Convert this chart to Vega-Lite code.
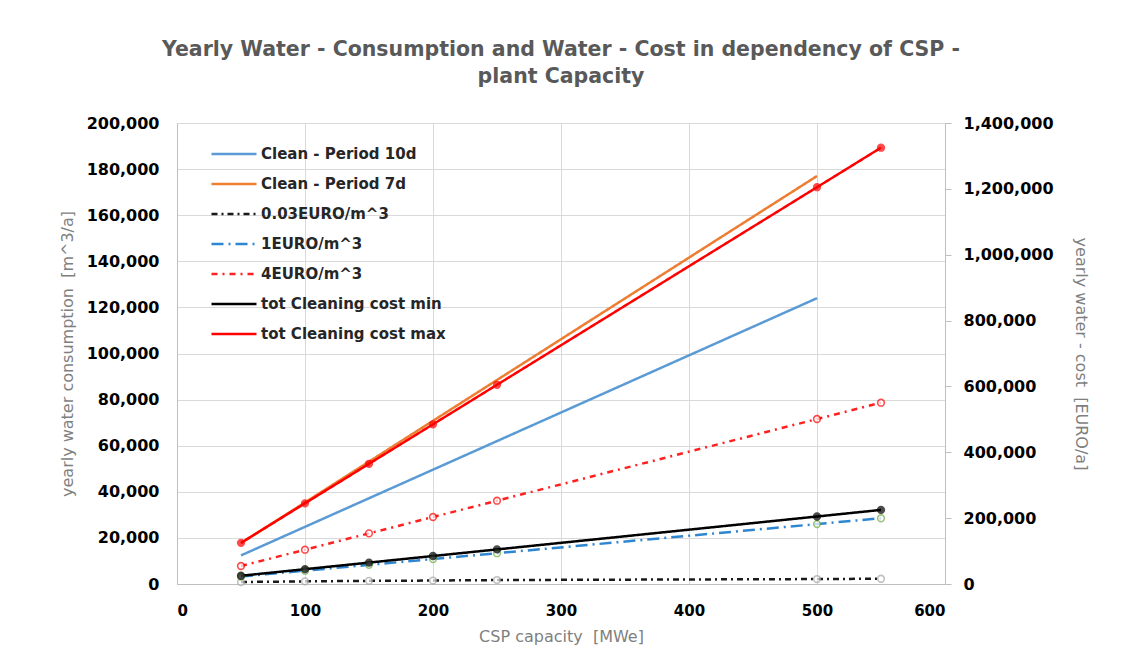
{
  "$schema": "https://vega.github.io/schema/vega-lite/v6.json",
  "width": 768,
  "height": 461,
  "autosize": {"type": "none"},
  "padding": {"left": 177, "top": 123, "right": 185, "bottom": 84},
  "background": "white",
  "config": {
    "view": {"stroke": null},
    "font": "DejaVu Sans",
    "axis": {
      "labelFont": "DejaVu Sans",
      "labelFontWeight": "bold",
      "labelFontSize": 16,
      "labelColor": "#000000",
      "titleFont": "DejaVu Sans",
      "titleFontWeight": "normal",
      "titleFontSize": 16,
      "titleColor": "#7F7F7F",
      "gridColor": "#D9D9D9",
      "gridWidth": 1,
      "domainColor": "#BFBFBF",
      "tickColor": "#BFBFBF"
    },
    "legend": {
      "orient": "none",
      "legendX": 48,
      "legendY": 22,
      "title": null,
      "symbolType": "M-3,0H3",
      "symbolSize": 225,
      "symbolFillColor": "transparent",
      "labelOffset": 18,
      "rowPadding": 13,
      "labelLimit": 400,
      "labelFont": "DejaVu Sans",
      "labelFontWeight": "bold",
      "labelFontSize": 15,
      "labelColor": "#262626",
      "padding": 0
    }
  },
  "title": {
    "text": ["Yearly Water - Consumption and Water - Cost in dependency of CSP -", "plant Capacity"],
    "font": "DejaVu Sans",
    "fontWeight": "bold",
    "fontSize": 20.5,
    "color": "#595959",
    "anchor": "middle",
    "lineHeight": 27,
    "offset": 28
  },
  "data": {
    "values": [
      {"mw": 50, "series": "Clean - Period 10d", "value": 12400},
      {"mw": 100, "series": "Clean - Period 10d", "value": 24800},
      {"mw": 150, "series": "Clean - Period 10d", "value": 37200},
      {"mw": 200, "series": "Clean - Period 10d", "value": 49600},
      {"mw": 250, "series": "Clean - Period 10d", "value": 62000},
      {"mw": 500, "series": "Clean - Period 10d", "value": 124000},
      {"mw": 50, "series": "Clean - Period 7d", "value": 17700},
      {"mw": 100, "series": "Clean - Period 7d", "value": 35400},
      {"mw": 150, "series": "Clean - Period 7d", "value": 53100},
      {"mw": 200, "series": "Clean - Period 7d", "value": 70800},
      {"mw": 250, "series": "Clean - Period 7d", "value": 88500},
      {"mw": 500, "series": "Clean - Period 7d", "value": 177000},
      {"mw": 50, "series": "0.03EURO/m^3", "value": 6000},
      {"mw": 100, "series": "0.03EURO/m^3", "value": 8000},
      {"mw": 150, "series": "0.03EURO/m^3", "value": 9500},
      {"mw": 200, "series": "0.03EURO/m^3", "value": 10500},
      {"mw": 250, "series": "0.03EURO/m^3", "value": 12000},
      {"mw": 500, "series": "0.03EURO/m^3", "value": 15000},
      {"mw": 550, "series": "0.03EURO/m^3", "value": 16000},
      {"mw": 50, "series": "1EURO/m^3", "value": 22700},
      {"mw": 100, "series": "1EURO/m^3", "value": 40400},
      {"mw": 150, "series": "1EURO/m^3", "value": 58100},
      {"mw": 200, "series": "1EURO/m^3", "value": 75800},
      {"mw": 250, "series": "1EURO/m^3", "value": 93500},
      {"mw": 500, "series": "1EURO/m^3", "value": 182000},
      {"mw": 550, "series": "1EURO/m^3", "value": 199700},
      {"mw": 50, "series": "4EURO/m^3", "value": 54600},
      {"mw": 100, "series": "4EURO/m^3", "value": 104200},
      {"mw": 150, "series": "4EURO/m^3", "value": 153800},
      {"mw": 200, "series": "4EURO/m^3", "value": 203400},
      {"mw": 250, "series": "4EURO/m^3", "value": 253000},
      {"mw": 500, "series": "4EURO/m^3", "value": 501000},
      {"mw": 550, "series": "4EURO/m^3", "value": 550600},
      {"mw": 50, "series": "tot Cleaning cost min", "value": 25000},
      {"mw": 100, "series": "tot Cleaning cost min", "value": 45000},
      {"mw": 150, "series": "tot Cleaning cost min", "value": 65000},
      {"mw": 200, "series": "tot Cleaning cost min", "value": 85000},
      {"mw": 250, "series": "tot Cleaning cost min", "value": 105000},
      {"mw": 500, "series": "tot Cleaning cost min", "value": 205000},
      {"mw": 550, "series": "tot Cleaning cost min", "value": 225000},
      {"mw": 50, "series": "tot Cleaning cost max", "value": 125000},
      {"mw": 100, "series": "tot Cleaning cost max", "value": 245000},
      {"mw": 150, "series": "tot Cleaning cost max", "value": 365000},
      {"mw": 200, "series": "tot Cleaning cost max", "value": 485000},
      {"mw": 250, "series": "tot Cleaning cost max", "value": 605000},
      {"mw": 500, "series": "tot Cleaning cost max", "value": 1205000},
      {"mw": 550, "series": "tot Cleaning cost max", "value": 1325000}
    ]
  },
  "encoding": {
    "x": {
      "field": "mw",
      "type": "quantitative",
      "scale": {"domain": [0, 600], "nice": false},
      "axis": {
        "title": "CSP capacity \u00a0[MWe]",
        "values": [0, 100, 200, 300, 400, 500, 600],
        "grid": true,
        "ticks": false,
        "labelPadding": 19,
        "titlePadding": 10,
        "labelFontSize": 15
      }
    }
  },
  "layer": [
    {
      "transform": [{"filter": {"field": "series", "oneOf": ["Clean - Period 10d", "Clean - Period 7d"]}}],
      "mark": {"type": "line", "clip": true},
      "encoding": {
        "y": {
          "field": "value",
          "type": "quantitative",
          "scale": {"domain": [0, 200000], "nice": false},
          "axis": {
            "title": "yearly water consumption \u00a0[m^3/a]",
            "orient": "left",
            "format": ",.0f",
            "values": [0, 20000, 40000, 60000, 80000, 100000, 120000, 140000, 160000, 180000, 200000],
            "grid": true,
            "ticks": false,
            "labelPadding": 18,
            "titlePadding": 11
          }
        },
        "color": {
          "field": "series",
          "type": "nominal",
          "scale": {
            "domain": ["Clean - Period 10d", "Clean - Period 7d", "0.03EURO/m^3", "1EURO/m^3", "4EURO/m^3", "tot Cleaning cost min", "tot Cleaning cost max"],
            "range": ["#5B9BD5", "#ED7D31", "#1A1A1A", "#2E86D1", "#FF2020", "#000000", "#FF0000"]
          }
        },
        "strokeDash": {
          "field": "series",
          "type": "nominal",
          "scale": {
            "domain": ["Clean - Period 10d", "Clean - Period 7d", "0.03EURO/m^3", "1EURO/m^3", "4EURO/m^3", "tot Cleaning cost min", "tot Cleaning cost max"],
            "range": [[1, 0], [1, 0], [6, 4, 2, 4], [12, 5, 2, 5], [6, 5, 2, 5], [1, 0], [1, 0]]
          }
        },
        "strokeWidth": {
          "field": "series",
          "type": "nominal",
          "scale": {
            "domain": ["Clean - Period 10d", "Clean - Period 7d", "0.03EURO/m^3", "1EURO/m^3", "4EURO/m^3", "tot Cleaning cost min", "tot Cleaning cost max"],
            "range": [2.5, 2.5, 2, 2, 1.6, 3, 3]
          }
        }
      }
    },
    {
      "transform": [{"filter": {"field": "series", "oneOf": ["0.03EURO/m^3", "1EURO/m^3", "4EURO/m^3", "tot Cleaning cost min", "tot Cleaning cost max"]}}],
      "encoding": {
        "y": {
          "field": "value",
          "type": "quantitative",
          "scale": {"domain": [0, 1400000], "nice": false},
          "axis": {
            "title": "yearly water - cost \u00a0[EURO/a]",
            "orient": "right",
            "format": ",.0f",
            "values": [0, 200000, 400000, 600000, 800000, 1000000, 1200000, 1400000],
            "grid": false,
            "ticks": true,
            "tickSize": 6,
            "labelPadding": 12,
            "titlePadding": 19
          }
        }
      },
      "layer": [
        {
          "mark": {"type": "line", "clip": true},
          "encoding": {
            "color": {"field": "series", "type": "nominal"},
            "strokeDash": {"field": "series", "type": "nominal"},
            "strokeWidth": {"field": "series", "type": "nominal"}
          }
        },
        {
          "mark": {"type": "point", "shape": "circle", "filled": true, "strokeWidth": 1.6},
          "encoding": {
            "stroke": {
              "field": "series",
              "type": "nominal",
              "legend": null,
              "scale": {
                "domain": ["0.03EURO/m^3", "1EURO/m^3", "4EURO/m^3", "tot Cleaning cost min", "tot Cleaning cost max"],
                "range": ["#A6A6A6", "#70AD47", "#FF0000", "#000000", "#FF0000"]
              }
            },
            "fill": {
              "field": "series",
              "type": "nominal",
              "legend": null,
              "scale": {
                "domain": ["0.03EURO/m^3", "1EURO/m^3", "4EURO/m^3", "tot Cleaning cost min", "tot Cleaning cost max"],
                "range": ["#FFFFFF", "#FFFFFF", "#FFFFFF", "#000000", "#FF0000"]
              }
            },
            "size": {
              "field": "series",
              "type": "nominal",
              "legend": null,
              "scale": {
                "domain": ["0.03EURO/m^3", "1EURO/m^3", "4EURO/m^3", "tot Cleaning cost min", "tot Cleaning cost max"],
                "range": [45, 45, 50, 70, 70]
              }
            }
          }
        }
      ]
    }
  ],
  "resolve": {"scale": {"y": "independent"}}
}
